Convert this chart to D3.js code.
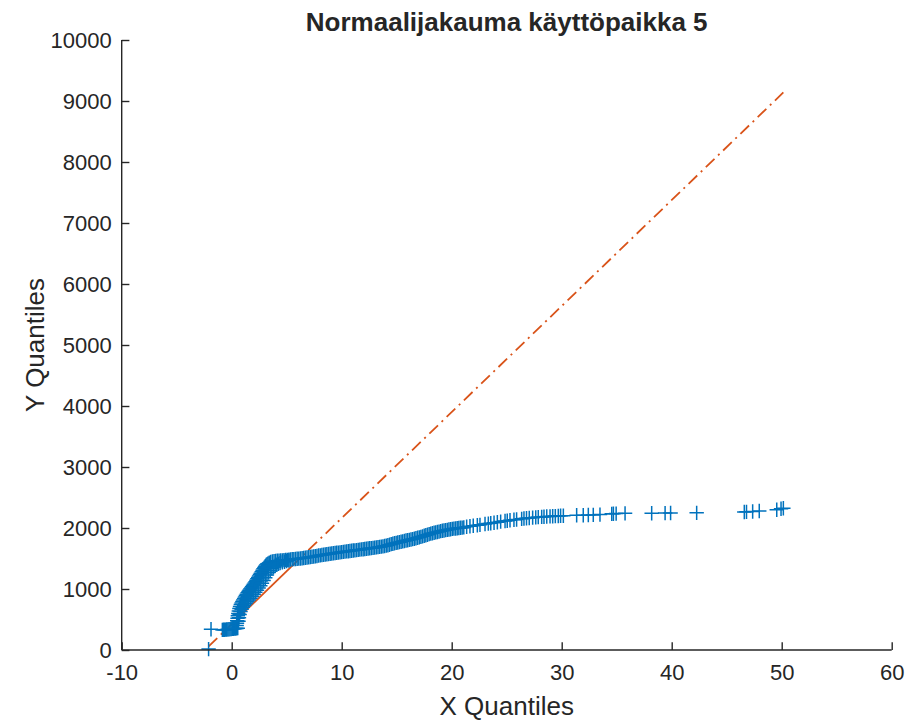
<!DOCTYPE html>
<html><head><meta charset="utf-8">
<script src="https://cdn.jsdelivr.net/npm/d3@7"></script>
<style>body{margin:0;background:#fff}svg{display:block}text{font-family:"Liberation Sans",Arial,sans-serif;fill:#262626}</style>
</head><body>
<svg id="c" width="912" height="722"></svg>
<script>
const titleText = "Normaalijakauma käyttöpaikka 5";
const xLabelText = "X Quantiles";
const yLabelText = "Y Quantiles";
const xTicks = [-10, 0, 10, 20, 30, 40, 50, 60];
const yTicks = [0, 1000, 2000, 3000, 4000, 5000, 6000, 7000, 8000, 9000, 10000];

// quantile pairs [x quantile, y quantile]
const qqPoints = [
[-2.1,15],[-1.88,340],
[-0.85,330],[-0.75,331],[-0.65,332],[-0.55,334],[-0.45,336],[-0.35,338],[-0.25,340],[-0.15,342],[-0.05,344],[0.05,346],[0.15,348],[0.25,350],[0.35,352],[0.45,354],[0.55,358],
[0.45,400],[0.48,440],[0.5,480],[0.53,520],[0.56,560],[0.6,600],[0.65,640],[0.7,680],[0.76,715],[0.83,745],[0.9,770],[0.97,795],[1.05,820],[1.13,845],[1.21,870],[1.29,893],[1.37,915],[1.45,937],[1.53,958],[1.61,978],[1.69,998],[1.77,1018],[1.85,1038],[1.93,1058],[2.01,1078],[2.09,1098],[2.17,1120],[2.25,1143],[2.33,1166],[2.41,1190],[2.49,1213],[2.57,1237],[2.65,1260],[2.73,1284],[2.81,1308],[2.89,1332],[2.97,1354],[3.05,1375],[3.13,1393],[3.22,1408],[3.31,1420],[3.42,1432],[3.55,1442],[3.7,1450],[3.85,1455],
[0.62,470],[0.66,530],[0.72,580],[0.8,630],[0.9,670],[1.0,700],[1.12,730],[1.25,760],[1.4,790],[1.55,820],[1.7,850],[1.85,880],[2.0,912],[2.15,945],[2.3,980],[2.45,1015],[2.6,1055],[2.75,1095],[2.9,1140],[3.05,1185],[3.2,1230],[3.35,1270],[3.5,1305],[3.65,1335],[3.8,1360],[3.95,1380],[4.1,1398],[4.25,1412],[4.4,1424],[4.6,1436],[4.8,1447],[5.0,1458],[5.2,1468],
[4.0,1459],[4.15,1462],[4.3,1465],[4.45,1468],[4.6,1470],[4.75,1473],[4.9,1476],[5.05,1478],[5.2,1481],[5.35,1484],[5.5,1487],[5.65,1490],[5.8,1492],[5.95,1495],[6.1,1498],[6.25,1501],[6.4,1505],[6.55,1508],[6.7,1512],[6.85,1516],[7.0,1520],[7.15,1524],[7.3,1528],[7.45,1533],[7.6,1537],[7.75,1542],[7.9,1548],[8.05,1552],[8.2,1557],[8.35,1561],[8.5,1565],[8.65,1569],[8.8,1573],[8.95,1578],[9.1,1582],[9.25,1586],[9.4,1590],[9.55,1594],[9.7,1597],[9.85,1601],
[10.0,1605],[10.15,1609],[10.3,1613],[10.45,1616],[10.6,1620],[10.75,1624],[10.9,1627],[11.05,1631],[11.2,1634],[11.35,1638],[11.5,1641],[11.65,1645],[11.8,1649],[11.95,1652],[12.1,1656],[12.25,1660],[12.4,1663],[12.55,1667],[12.7,1670],[12.85,1674],[13.0,1678],[13.15,1682],[13.3,1686],[13.45,1690],[13.6,1694],[13.75,1699],[13.9,1705],[14.05,1711],[14.2,1718],[14.35,1726],[14.5,1735],[14.65,1742],[14.8,1750],[14.95,1756],
[15.1,1762],[15.25,1768],[15.4,1775],[15.55,1781],[15.7,1788],[15.85,1794],[16.0,1800],[16.15,1806],[16.3,1812],[16.45,1818],[16.6,1825],[16.75,1832],[16.9,1840],[17.05,1847],[17.2,1855],[17.35,1863],[17.5,1872],[17.65,1881],[17.8,1890],[17.95,1899],[18.1,1908],[18.25,1915],[18.4,1922],[18.55,1928],[18.7,1935],[18.85,1941],[19.0,1948],[19.15,1954],[19.3,1960],[19.45,1965],[19.6,1970],[19.75,1975],[19.9,1980],[20.05,1985],[20.2,1990],[20.35,1993],[20.5,1997],[20.65,2000],[20.8,2003],[20.95,2006],[21.1,2010],
[21.36,2020],[21.66,2028],[21.96,2036],[22.33,2045],[22.57,2052],[23.03,2065],[23.33,2072],[23.55,2078],[23.85,2085],[24.15,2095],[24.45,2105],[24.85,2115],[25.05,2120],[25.3,2127],[25.66,2135],[25.9,2140],[26.36,2150],[26.57,2155],[26.8,2160],[27.05,2165],[27.36,2170],[27.64,2175],[27.87,2178],[28.18,2182],[28.39,2185],[28.64,2188],[28.94,2190],[29.18,2192],[29.42,2195],[29.69,2197],[29.9,2200],[30.15,2202],
[31.36,2208],[31.96,2210],[32.42,2213],[32.87,2215],[33.48,2220],[34.55,2232],[34.7,2234],[34.95,2236],[35.76,2240],[38.18,2242],[39.4,2244],[39.9,2246],[42.27,2248],[46.6,2262],[46.8,2265],[47.36,2270],[47.96,2278],[49.55,2300],[49.94,2315],[50.15,2325]
];

// reference line: [xmin, q1, q3, xmax]
const refX = [-2.1, 1.0, 5.4, 50.15];
const refY = [59, 598, 1363, 9140];

const svg = d3.select("#c");
const L = 121.7, R = 891.7, T = 40, B = 650;
const x = d3.scaleLinear().domain([-10, 60]).range([L, R]);
const y = d3.scaleLinear().domain([0, 10000]).range([B, T]);
const ink = "#262626";
const font = '"Liberation Sans", Arial, sans-serif';

// reference line
const line = d3.line().x(d => x(d[0])).y(d => y(d[1]));
const orange = "#D95319";
const segs = [[0,1,"12,5,2,5"],[1,2,null],[2,3,"12,5,2,5"]];
segs.forEach(([a,b,dash]) => {
  const p = svg.append("path").attr("d", line([[refX[a],refY[a]],[refX[b],refY[b]]]))
    .attr("stroke", orange).attr("stroke-width", 1.8).attr("fill","none");
  if (dash) p.attr("stroke-dasharray", dash);
});

// points (+ markers)
const s = 7.2;
svg.append("g").selectAll("path").data(qqPoints).join("path")
  .attr("d", d => { const cx = x(d[0]), cy = y(d[1]); return `M${cx-s},${cy}H${cx+s}M${cx},${cy-s}V${cy+s}`; })
  .attr("stroke", "#0072BD").attr("stroke-width", 1.5).attr("fill","none");

// axes
const xAxis = d3.axisBottom(x).tickValues(xTicks).tickSize(-7.7).tickPadding(14).tickFormat(d3.format("d"));
const yAxis = d3.axisLeft(y).tickValues(yTicks).tickSize(-7.7).tickPadding(10).tickFormat(d3.format("d"));
const gx = svg.append("g").attr("transform", `translate(0,${B})`).call(xAxis);
const gy = svg.append("g").attr("transform", `translate(${L},0)`).call(yAxis);
[gx, gy].forEach(g => {
  g.select(".domain").attr("stroke", ink).attr("stroke-width", 1.4);
  g.selectAll(".tick line").attr("stroke", ink).attr("stroke-width", 1.4);
  g.selectAll(".tick text").attr("fill", ink).style("font-size", "22px").style("font-family", font);
});
gx.selectAll(".tick text").text(d => d < 0 ? "-" + Math.abs(d) : String(d));
gx.select(".domain").attr("d", `M${L},0H${R}`);
gy.select(".domain").attr("d", `M0,${B}V${T}`);

svg.append("text").attr("x", (L+R)/2).attr("y", 31).attr("text-anchor","middle")
  .style("font-size","26px").style("font-weight","bold").text(titleText);
svg.append("text").attr("x", (L+R)/2).attr("y", 715).attr("text-anchor","middle")
  .style("font-size","26px").text(xLabelText);
svg.append("text").attr("transform", `translate(44,${(T+B)/2}) rotate(-90)`).attr("text-anchor","middle")
  .style("font-size","26px").text(yLabelText);
</script>
</body></html>
